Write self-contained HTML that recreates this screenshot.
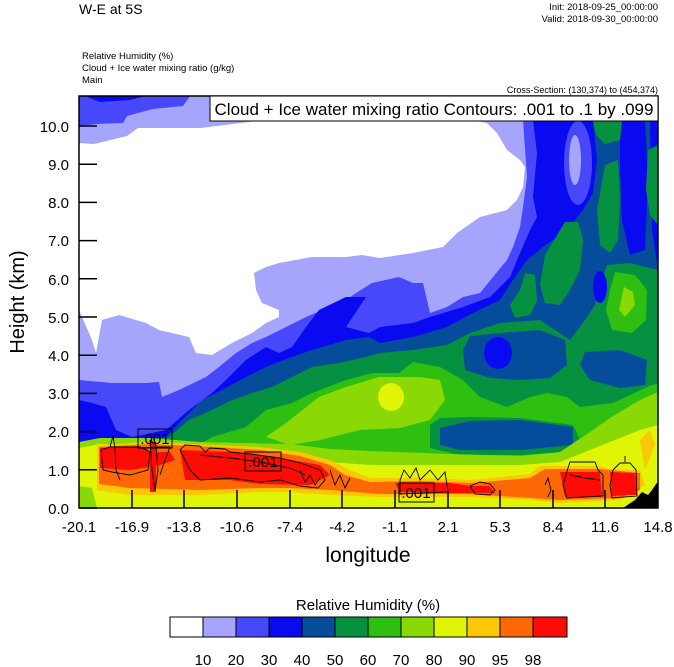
<!DOCTYPE html>
<html><head><meta charset="utf-8"><style>
body{margin:0;background:#fff;}
svg{display:block;font-family:"Liberation Sans",sans-serif;}
</style></head><body>
<svg width="674" height="667" viewBox="0 0 674 667" xmlns="http://www.w3.org/2000/svg">
<defs><clipPath id="pc"><rect x="79" y="96" width="579" height="412"/></clipPath></defs>
<g clip-path="url(#pc)">
<rect x="79" y="96" width="579" height="412" fill="#a5a5fb"/>
<polygon fill="#ffffff" points="79,143 94,144 127,136 138,128 201,128 257,121 477,121 487,123 497,133 507,150 520,160 525,167 523,187 517,200 507,210 480,217 457,233 443,247 413,253 380,258 362,255 346,257 312,257 279,263 266,267 254,273 256,290 262,303 279,310 279,317 266,323 252,333 232,343 212,355 196,353 189,337 159,330 146,323 119,315 102,320 96,353 92,340 79,310"/>
<polygon fill="#4848fb" points="79,96 190,96 183,106 153,109 127,116 123,123 97,124 79,126"/>
<polygon fill="#0a0af0" points="85,96 145,96 130,100 100,102"/>
<polygon fill="#4848fb" points="79,380 112,383 146,383 159,382 162,397 179,390 206,377 219,367 236,353 252,343 266,337 286,327 306,317 329,307 346,300 356,293 372,283 399,277 413,283 423,283 430,313 447,307 463,297 480,293 493,277 507,260 513,247 520,227 523,207 527,177 523,120 658,120 658,508 79,508"/>
<polygon fill="#4848fb" points="150,398 160,392 164,402 155,404"/>
<polygon fill="#0a0af0" points="79,400 92,403 106,407 116,430 132,437 166,430 189,410 212,393 229,377 246,360 266,347 279,353 292,347 306,327 319,310 346,297 366,297 346,327 369,333 380,327 413,323 430,317 463,307 490,297 510,277 520,253 530,230 537,217 533,197 537,153 533,120 658,120 658,508 79,508"/>
<polygon fill="#054d9a" points="79,445 146,450 166,437 179,423 202,400 222,390 246,377 266,367 292,357 312,350 346,340 369,337 380,343 413,337 447,327 473,313 500,300 513,280 527,260 543,247 567,230 583,210 593,193 597,160 593,120 658,120 658,508 79,508"/>
<!-- upper-right features -->
<ellipse cx="578" cy="163" rx="14" ry="42" fill="#4848fb"/>
<ellipse cx="575" cy="160" rx="6" ry="25" fill="#a5a5fb"/>
<polygon fill="#0a0af0" points="620,120 645,120 648,180 645,250 630,255 622,220 620,170"/>
<polygon fill="#0a0af0" points="650,120 658,120 658,270 652,230"/>
<polygon fill="#05913f" points="593,121 622,121 620,140 605,144 596,135"/>
<polygon fill="#05913f" points="605,165 618,160 620,200 618,240 610,253 600,245 597,210"/>
<polygon fill="#05913f" points="648,150 658,145 658,225 650,215 646,190"/>
<polygon fill="#05913f" points="565,222 578,222 583,240 580,270 570,290 560,305 545,303 540,285 545,255"/>
<polygon fill="#05913f" points="525,273 535,275 537,300 530,315 515,318 510,305 520,290"/>
<polygon fill="#05913f" points="607,265 630,263 650,268 658,270 658,345 640,345 620,355 600,353 580,350 570,340 585,320 595,305 600,285"/>
<ellipse cx="600" cy="287" rx="7" ry="16" fill="#0a0af0"/>
<polygon fill="#2ebf11" points="615,272 635,275 647,290 646,320 632,333 612,330 606,310 610,290"/>
<polygon fill="#8ad905" points="624,287 633,292 635,305 625,317 619,310"/>
<!-- green band -->
<polygon fill="#05913f" points="79,447 169,437 189,420 212,410 232,400 252,393 272,387 292,377 312,367 339,363 366,357 380,353 413,350 447,345 470,333 500,323 540,320 570,340 590,350 620,345 658,340 658,508 79,508"/>
<polygon fill="#054d9a" points="470,336 500,333 540,330 565,340 567,365 550,378 520,380 490,378 465,370 463,350"/>
<ellipse cx="498" cy="353" rx="14" ry="16" fill="#0a0af0"/>
<polygon fill="#054d9a" points="585,352 620,350 647,360 645,385 620,388 590,380 580,365"/>
<polygon fill="#2ebf11" points="79,449 189,450 212,437 246,427 266,410 292,403 312,393 346,380 372,373 399,373 413,362 440,367 463,380 480,397 507,407 530,397 547,393 567,397 580,407 613,403 647,387 658,383 658,508 79,508"/>
<polygon fill="#8ad905" points="266,437 286,423 319,397 346,387 379,377 420,377 440,380 445,400 430,420 400,428 360,430 320,440 290,445"/>
<ellipse cx="391" cy="397" rx="13" ry="14" fill="#dff505"/>
<!-- lower layers -->
<polygon fill="#05913f" points="430,425 440,418 470,417 520,418 573,425 580,440 573,452 520,455 460,455 430,448"/>
<polygon fill="#054d9a" points="440,428 470,421 520,420 573,427 573,445 520,450 460,450 440,445"/>
<polygon fill="#8ad905" points="79,442 100,438 150,438 200,442 290,444 330,449 370,451 450,454 520,456 560,452 590,432 610,418 640,400 658,392 658,508 79,508"/>
<polygon fill="#dff505" points="79,448 100,444 200,447 290,455 330,462 370,465 450,465 520,465 560,462 590,450 615,440 640,430 658,425 658,508 79,508"/>
<polygon fill="#8ad905" points="79,486 92,488 97,508 79,508"/>
<polygon fill="#fcc705" points="97,445 150,442 215,445 260,447 300,452 330,460 350,470 370,478 420,478 470,480 530,474 540,466 600,466 610,469 640,470 645,485 620,500 560,503 530,500 470,497 380,497 330,495 290,492 260,492 200,495 130,495 97,490"/>
<polygon fill="#fd6805" points="99,447 150,444 215,447 260,450 300,456 330,465 345,475 370,482 420,481 470,483 530,478 545,469 600,469 640,473 640,490 620,498 560,500 470,494 380,494 330,490 290,488 260,488 200,490 130,488 99,484"/>
<polygon fill="#fc0c04" points="100,448 145,447 150,452 170,452 175,460 160,465 130,470 100,468"/>
<polygon fill="#fc0c04" points="180,450 230,452 280,458 320,465 330,475 310,485 260,484 230,480 185,480"/>
<polygon fill="#fc0c04" points="395,483 450,483 470,486 490,486 495,493 450,493 400,492"/>
<polygon fill="#fc0c04" points="560,472 600,472 602,497 565,497"/>
<polygon fill="#fc0c04" points="610,472 635,473 637,495 612,496"/>
<rect x="150" y="442" width="6" height="50" fill="#fc0c04"/>
<polygon fill="#fcc705" points="640,440 650,430 655,445 645,470"/>
<polygon fill="#000" points="623,508 635,500 642,492 648,495 652,490 656,484 658,482 658,508"/>
<!-- contours -->
<g fill="none" stroke="#000" stroke-width="0.9">
<polyline points="103,470 101,450 110,447 140,447 150,452 148,470 130,475 112,472 103,470"/>
<polyline points="110,447 113,436 115,448 116,470 120,480"/>
<polyline points="140,448 160,447 170,447 165,460 160,475"/>
<polyline points="150,440 156,445 158,470 155,490 152,470 150,440"/>
<polyline points="180,450 185,445 200,446 205,452 210,448 225,449 230,452 250,454 280,458 300,463 320,470 325,480 318,488 300,486 280,480 260,482 230,478 200,480 190,470 185,460 180,450"/>
<polyline points="200,455 230,458 260,462 290,468 305,475"/>
<polyline points="300,470 305,482 310,475 315,485 320,478"/>
<polyline points="330,470 335,485 340,475 345,488 350,478"/>
<polyline points="400,480 404,470 410,478 416,468 420,480 430,470 438,480 445,472 448,492 400,494 400,480"/>
<polyline points="470,486 480,482 490,484 495,490 490,495 475,494 470,486"/>
<polyline points="568,468 570,462 595,462 598,470 603,475 603,496 567,498 563,485 568,468"/>
<polyline points="570,475 585,478 600,480"/>
<polyline points="613,470 620,463 630,463 636,470 637,496 612,498 610,485 613,470"/>
<polyline points="625,462 625,456"/>
<polyline points="545,485 548,478 551,490 548,497"/>
</g>
<g font-size="15" fill="#000">
<rect x="138" y="429" width="34" height="19" fill="none" stroke="#000" stroke-width="1"/>
<text x="155" y="444" text-anchor="middle">.001</text>
<rect x="245" y="452" width="36" height="19" fill="none" stroke="#000" stroke-width="1"/>
<text x="263" y="467" text-anchor="middle">.001</text>
<rect x="399" y="483" width="35" height="19" fill="none" stroke="#000" stroke-width="1"/>
<text x="416" y="498" text-anchor="middle">.001</text>
</g>
</g>
<rect x="79" y="96" width="579" height="412" fill="none" stroke="#000" stroke-width="1.5"/>
<rect x="210" y="96" width="448" height="25" fill="#fff" stroke="#000" stroke-width="1"/>
<text x="434" y="115" font-size="17" text-anchor="middle">Cloud + Ice water mixing ratio Contours: .001 to .1 by .099</text>
<g stroke="#000" stroke-width="1.5">
<line x1="79" y1="508" x2="97" y2="508"/><line x1="79" y1="469.8" x2="97" y2="469.8"/><line x1="79" y1="431.6" x2="97" y2="431.6"/><line x1="79" y1="393.4" x2="97" y2="393.4"/><line x1="79" y1="355.2" x2="97" y2="355.2"/><line x1="79" y1="317" x2="97" y2="317"/><line x1="79" y1="278.8" x2="97" y2="278.8"/><line x1="79" y1="240.6" x2="97" y2="240.6"/><line x1="79" y1="202.4" x2="97" y2="202.4"/><line x1="79" y1="164.2" x2="97" y2="164.2"/><line x1="79" y1="126" x2="97" y2="126"/>
<line x1="132" y1="508" x2="132" y2="490"/><line x1="184" y1="508" x2="184" y2="490"/><line x1="237" y1="508" x2="237" y2="490"/><line x1="290" y1="508" x2="290" y2="490"/><line x1="342" y1="508" x2="342" y2="490"/><line x1="395" y1="508" x2="395" y2="490"/><line x1="448" y1="508" x2="448" y2="490"/><line x1="500" y1="508" x2="500" y2="490"/><line x1="553" y1="508" x2="553" y2="490"/><line x1="605" y1="508" x2="605" y2="490"/>
</g>
<g font-size="15" text-anchor="end">
<text x="69" y="514">0.0</text><text x="69" y="476">1.0</text><text x="69" y="437">2.0</text><text x="69" y="399">3.0</text><text x="69" y="361">4.0</text><text x="69" y="323">5.0</text><text x="69" y="285">6.0</text><text x="69" y="246">7.0</text><text x="69" y="208">8.0</text><text x="69" y="170">9.0</text><text x="69" y="132">10.0</text>
</g>
<g font-size="15" text-anchor="middle">
<text x="79" y="532">-20.1</text><text x="132" y="532">-16.9</text><text x="184" y="532">-13.8</text><text x="237" y="532">-10.6</text><text x="290" y="532">-7.4</text><text x="342" y="532">-4.2</text><text x="395" y="532">-1.1</text><text x="448" y="532">2.1</text><text x="500" y="532">5.3</text><text x="553" y="532">8.4</text><text x="605" y="532">11.6</text><text x="658" y="532">14.8</text>
</g>
<text x="368" y="562" font-size="21" text-anchor="middle">longitude</text>
<text transform="translate(24,302) rotate(-90)" font-size="20" text-anchor="middle">Height (km)</text>
<text x="79" y="14" font-size="14">W-E at 5S</text>
<text x="658" y="10" font-size="9.5" text-anchor="end">Init: 2018-09-25_00:00:00</text>
<text x="658" y="22" font-size="9.5" text-anchor="end">Valid: 2018-09-30_00:00:00</text>
<text x="82" y="59" font-size="9.5">Relative Humidity   (%)</text>
<text x="82" y="71" font-size="9.5">Cloud + Ice water mixing ratio   (g/kg)</text>
<text x="82" y="83" font-size="9.5">Main</text>
<text x="658" y="93" font-size="9" text-anchor="end">Cross-Section: (130,374) to (454,374)</text>
<text x="368" y="610" font-size="15" text-anchor="middle">Relative Humidity  (%)</text>
<g stroke="#000" stroke-width="1">
<rect x="170" y="617" width="33" height="20" fill="#ffffff"/>
<rect x="203" y="617" width="33" height="20" fill="#a5a5fb"/>
<rect x="236" y="617" width="33" height="20" fill="#4848fb"/>
<rect x="269" y="617" width="33" height="20" fill="#0a0af0"/>
<rect x="302" y="617" width="33" height="20" fill="#054d9a"/>
<rect x="335" y="617" width="33" height="20" fill="#05913f"/>
<rect x="368" y="617" width="33" height="20" fill="#2ebf11"/>
<rect x="401" y="617" width="33" height="20" fill="#8ad905"/>
<rect x="434" y="617" width="33" height="20" fill="#dff505"/>
<rect x="467" y="617" width="33" height="20" fill="#fcc705"/>
<rect x="500" y="617" width="33" height="20" fill="#fd6805"/>
<rect x="533" y="617" width="34" height="20" fill="#fc0c04"/>
</g>
<g font-size="15" text-anchor="middle">
<text x="203" y="665">10</text><text x="236" y="665">20</text><text x="269" y="665">30</text><text x="302" y="665">40</text><text x="335" y="665">50</text><text x="368" y="665">60</text><text x="401" y="665">70</text><text x="434" y="665">80</text><text x="467" y="665">90</text><text x="500" y="665">95</text><text x="533" y="665">98</text>
</g>
</svg>
</body></html>
